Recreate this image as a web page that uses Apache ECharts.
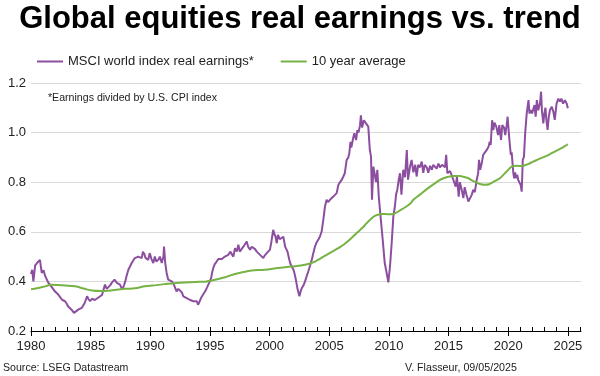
<!DOCTYPE html>
<html>
<head>
<meta charset="utf-8">
<script src="https://cdn.jsdelivr.net/npm/echarts@6/dist/echarts.min.js"></script>
<style>
  html, body { margin: 0; padding: 0; background: #fff; }
  #chart { width: 600px; height: 376px; }
</style>
</head>
<body>
<div id="chart"></div>
<script>
const FONT = '"Liberation Sans", Arial, sans-serif';
const PURPLE = '#8C4F9F';
const GREEN = '#77B244';

const xTicks = [1980, 1985, 1990, 1995, 2000, 2005, 2010, 2015, 2020, 2025];
const xMinorTicks = [1980, 1981, 1982, 1983, 1984, 1985, 1986, 1987, 1988, 1989,
  1990, 1991, 1992, 1993, 1994, 1995, 1996, 1997, 1998, 1999,
  2000, 2001, 2002, 2003, 2004, 2005, 2006, 2007, 2008, 2009,
  2010, 2011, 2012, 2013, 2014, 2015, 2016, 2017, 2018, 2019,
  2020, 2021, 2022, 2023, 2024, 2025, 2026];
const yTicks = [0.2, 0.4, 0.6, 0.8, 1.0, 1.2];

// MSCI world real earnings (decimal years)
const earnYears = [
  1980.0, 1980.1, 1980.2, 1980.35, 1980.5, 1980.6, 1980.75, 1980.9,
  1981.05, 1981.2, 1981.45, 1981.55, 1981.7, 1981.85,
  1982.0, 1982.15, 1982.3, 1982.45, 1982.6, 1982.75, 1982.85,
  1983.0, 1983.1, 1983.25, 1983.4, 1983.6, 1983.75, 1983.96,
  1984.1, 1984.25, 1984.4, 1984.5, 1984.7, 1984.8, 1984.95,
  1985.1, 1985.2, 1985.35, 1985.5, 1985.65, 1985.8, 1985.95,
  1986.06, 1986.2, 1986.35, 1986.5, 1986.65, 1986.76, 1986.9,
  1987.0, 1987.2, 1987.35, 1987.46, 1987.65, 1987.8, 1987.9,
  1988.0, 1988.16, 1988.3, 1988.44, 1988.55, 1988.7, 1988.85,
  1989.0, 1989.15, 1989.28, 1989.38, 1989.5, 1989.6, 1989.72, 1989.83, 1989.95,
  1990.1, 1990.25, 1990.38, 1990.5, 1990.67, 1990.8, 1990.96,
  1991.1, 1991.15, 1991.25, 1991.37, 1991.5, 1991.65, 1991.8, 1991.95,
  1992.07, 1992.2, 1992.35, 1992.5, 1992.65, 1992.77, 1992.9,
  1993.05, 1993.2, 1993.3, 1993.45, 1993.6, 1993.75, 1993.9,
  1994.0, 1994.1, 1994.25, 1994.4, 1994.6, 1994.75, 1994.86,
  1995.0, 1995.1, 1995.2, 1995.28, 1995.4, 1995.56, 1995.7, 1995.84,
  1996.0, 1996.1, 1996.25, 1996.4, 1996.54, 1996.7, 1996.8, 1996.96,
  1997.1, 1997.25, 1997.38, 1997.5, 1997.65, 1997.8, 1997.95,
  1998.08, 1998.2, 1998.36, 1998.5, 1998.64, 1998.78, 1998.92,
  1999.05, 1999.2, 1999.35, 1999.47, 1999.6, 1999.76, 1999.9,
  2000.03, 2000.15, 2000.3, 2000.4, 2000.5, 2000.6, 2000.7, 2000.85,
  2001.0, 2001.15, 2001.3, 2001.5, 2001.65, 2001.75, 2001.85,
  2002.0, 2002.1, 2002.2, 2002.35, 2002.5, 2002.6, 2002.7, 2002.85, 2002.97,
  2003.1, 2003.24, 2003.4, 2003.55, 2003.66, 2003.8, 2003.95,
  2004.1, 2004.22, 2004.36, 2004.5, 2004.64, 2004.78, 2004.9,
  2005.06, 2005.2, 2005.34, 2005.5, 2005.62, 2005.76, 2005.9,
  2006.04, 2006.18, 2006.3, 2006.46, 2006.6, 2006.68, 2006.78, 2006.85,
  2007.0, 2007.1, 2007.25, 2007.35, 2007.45, 2007.58, 2007.65, 2007.75, 2007.9,
  2008.08, 2008.27, 2008.4, 2008.5, 2008.58, 2008.7, 2008.83, 2008.92,
  2009.03, 2009.15, 2009.3, 2009.48, 2009.65, 2009.81, 2009.95,
  2010.09, 2010.23, 2010.37, 2010.5, 2010.6, 2010.7, 2010.82, 2010.93,
  2011.05, 2011.2, 2011.35, 2011.5, 2011.6, 2011.77, 2011.9,
  2012.05, 2012.2, 2012.33, 2012.45, 2012.6, 2012.75, 2012.88,
  2013.0, 2013.17, 2013.3, 2013.45, 2013.6, 2013.72, 2013.86,
  2014.0, 2014.15, 2014.28, 2014.45, 2014.56, 2014.7, 2014.8, 2014.9,
  2015.12, 2015.25, 2015.4, 2015.6, 2015.7, 2015.85, 2015.95,
  2016.1, 2016.24, 2016.35, 2016.5, 2016.66, 2016.8, 2016.94,
  2017.07, 2017.2, 2017.36, 2017.48, 2017.55, 2017.65, 2017.78, 2017.9,
  2018.05, 2018.2, 2018.35, 2018.45, 2018.53, 2018.65, 2018.75, 2018.85,
  2019.0, 2019.15, 2019.25, 2019.4, 2019.5, 2019.65, 2019.75, 2019.87, 2019.95,
  2020.05, 2020.15, 2020.22, 2020.29, 2020.36, 2020.43, 2020.5, 2020.58, 2020.65, 2020.75, 2020.84, 2020.95,
  2021.04, 2021.13, 2021.22, 2021.32, 2021.42, 2021.55, 2021.7, 2021.78, 2021.9,
  2022.0, 2022.1, 2022.2, 2022.3, 2022.4, 2022.52, 2022.67, 2022.75, 2022.83, 2022.94,
  2023.03, 2023.12, 2023.2, 2023.3, 2023.4, 2023.5, 2023.65, 2023.78, 2023.9,
  2024.05, 2024.2, 2024.33, 2024.45, 2024.6, 2024.75, 2024.9,
  2025.0
];
const earnValues = [
  0.43, 0.447, 0.40, 0.465, 0.474, 0.48, 0.487, 0.434,
  0.445, 0.42, 0.395, 0.40, 0.38, 0.385,
  0.36, 0.365, 0.346, 0.35, 0.326, 0.33, 0.32,
  0.31, 0.30, 0.295, 0.286, 0.273, 0.28, 0.286,
  0.283, 0.293, 0.30, 0.313, 0.34, 0.33, 0.32,
  0.33, 0.333, 0.325, 0.326, 0.335, 0.34, 0.345,
  0.353, 0.387, 0.37, 0.373, 0.385, 0.394, 0.39,
  0.407, 0.394, 0.40, 0.387, 0.367, 0.385, 0.40,
  0.42, 0.447, 0.46, 0.474, 0.48, 0.494, 0.49,
  0.50, 0.505, 0.494, 0.52, 0.51, 0.495, 0.487, 0.487, 0.514,
  0.49, 0.474, 0.50, 0.48, 0.487, 0.50, 0.474,
  0.50, 0.54, 0.474, 0.434, 0.407, 0.41, 0.40, 0.39,
  0.387, 0.36, 0.37, 0.367, 0.355, 0.34, 0.345,
  0.333, 0.335, 0.326, 0.33, 0.32, 0.325, 0.32,
  0.306, 0.315, 0.333, 0.345, 0.36, 0.375, 0.387,
  0.40, 0.414, 0.44, 0.454, 0.47, 0.48, 0.49, 0.494,
  0.49, 0.487, 0.50, 0.494, 0.507, 0.52, 0.515, 0.50,
  0.534, 0.52, 0.548, 0.52, 0.53, 0.54, 0.545,
  0.561, 0.54, 0.528, 0.54, 0.534, 0.53, 0.52,
  0.515, 0.507, 0.50, 0.494, 0.505, 0.514, 0.52,
  0.528, 0.56, 0.608, 0.59, 0.58, 0.554, 0.588, 0.57,
  0.575, 0.58, 0.54, 0.52, 0.487, 0.47, 0.46,
  0.447, 0.43, 0.407, 0.367, 0.34, 0.36, 0.373, 0.385, 0.40,
  0.42, 0.44, 0.465, 0.49, 0.514, 0.54, 0.558,
  0.57, 0.581, 0.601, 0.648, 0.702, 0.729, 0.72,
  0.729, 0.735, 0.742, 0.75, 0.756, 0.789, 0.80,
  0.809, 0.823, 0.836, 0.89, 0.90, 0.917, 0.963, 0.94,
  0.977, 0.997, 0.97, 1.01, 1.00, 1.03, 1.07, 1.02, 1.05,
  1.037, 1.024, 0.93, 0.903, 0.729, 0.863, 0.87, 0.80,
  0.85, 0.742, 0.661, 0.568, 0.474, 0.434, 0.396,
  0.46, 0.554, 0.661, 0.702, 0.75, 0.769, 0.809, 0.836,
  0.75, 0.85, 0.82, 0.93, 0.81, 0.863, 0.89,
  0.84, 0.87, 0.823, 0.87, 0.86, 0.883, 0.838,
  0.87, 0.86, 0.838, 0.866, 0.85, 0.87, 0.865,
  0.855, 0.875, 0.86, 0.87, 0.868, 0.86, 0.91, 0.836,
  0.845, 0.83, 0.823, 0.782, 0.823, 0.742, 0.80,
  0.769, 0.736, 0.78, 0.749, 0.722, 0.716, 0.749,
  0.769, 0.76, 0.81, 0.836, 0.89, 0.85, 0.876, 0.91,
  0.917, 0.93, 0.943, 0.963, 0.95, 1.05, 1.01, 1.04,
  1.024, 0.99, 1.03, 0.97, 1.03, 1.02, 0.99, 1.03, 1.064,
  1.0, 0.943, 0.91, 0.92, 0.877, 0.836, 0.816, 0.84, 0.816, 0.83, 0.809, 0.816,
  0.789, 0.762, 0.89, 0.903, 0.997, 1.077, 1.131, 1.077, 1.091,
  1.077, 1.085, 1.111, 1.064, 1.131, 1.09, 1.12, 1.165, 1.085, 1.037,
  1.077, 1.10, 1.05, 1.011, 1.064, 1.091, 1.104, 1.085, 1.051,
  1.117, 1.137, 1.125, 1.137, 1.117, 1.13, 1.117,
  1.098
];

// 10 year average
const avgYears = [
  1980.0, 1980.5, 1981.2, 1981.7, 1982.6, 1983.7, 1984.5, 1985.1, 1985.9, 1986.8,
  1987.9, 1988.7, 1989.55, 1990.5, 1991.2, 1992.0, 1992.9, 1993.8, 1994.6, 1995.15,
  1995.7, 1996.26, 1996.7, 1997.1, 1997.8, 1998.5, 1999.6, 2000.7, 2001.85, 2002.97,
  2003.8, 2004.7, 2005.5, 2006.2, 2006.8, 2007.3, 2007.8, 2008.14, 2008.7, 2009.0,
  2009.4, 2009.9, 2010.37, 2010.93, 2011.4, 2011.77, 2012.05, 2012.6, 2013.17, 2013.7,
  2014.28, 2014.7, 2015.12, 2015.5, 2015.96, 2016.3, 2016.66, 2017.0, 2017.36, 2017.7,
  2018.05, 2018.4, 2018.75, 2019.3, 2019.87, 2020.29, 2020.7, 2021.13, 2021.6, 2022.1,
  2022.6, 2023.2, 2023.6, 2024.05, 2024.5, 2024.9, 2025.0
];
const avgValues = [
  0.368, 0.372, 0.38, 0.386, 0.384, 0.38, 0.37, 0.363, 0.361, 0.364,
  0.37, 0.372, 0.38, 0.385, 0.389, 0.393, 0.396, 0.398, 0.399, 0.404,
  0.41, 0.417, 0.424, 0.43, 0.438, 0.444, 0.447, 0.454, 0.46, 0.467,
  0.48, 0.505, 0.527, 0.548, 0.572, 0.595, 0.617, 0.635, 0.661, 0.668,
  0.672, 0.671, 0.672, 0.686, 0.70, 0.713, 0.729, 0.75, 0.772, 0.79,
  0.809, 0.818, 0.823, 0.825, 0.825, 0.821, 0.816, 0.806, 0.798, 0.792,
  0.79, 0.792, 0.801, 0.816, 0.843, 0.863, 0.866, 0.865, 0.872, 0.883,
  0.894, 0.906, 0.916, 0.927, 0.938, 0.95, 0.952
];

const chart = echarts.init(document.getElementById('chart'));

const option = {
  animation: false,
  backgroundColor: '#fff',
  textStyle: { fontFamily: FONT },
  title: {
    text: 'Global equities real earnings vs. trend',
    left: 'center',
    top: 4,
    padding: 0,
    textStyle: { fontFamily: FONT, fontSize: 31, fontWeight: 'bold', color: '#000' },
  },
  legend: {
    left: 37,
    top: 55,
    padding: 0,
    icon: 'rect',
    itemWidth: 26,
    itemHeight: 2,
    itemGap: 27,
    textStyle: { fontFamily: FONT, fontSize: 13, color: '#222' },
    data: ['MSCI world index real earnings*', '10 year average'],
  },
  grid: { left: 31, right: 19, top: 83, bottom: 45, containLabel: false },
  xAxis: [
    {
      type: 'value',
      min: 1980,
      max: 2026.1,
      axisLine: { lineStyle: { color: '#000', width: 1 } },
      axisTick: { customValues: xTicks, length: 5, inside: false, lineStyle: { color: '#000' } },
      axisLabel: {
        customValues: xTicks,
        margin: 9,
        fontFamily: FONT,
        fontSize: 13,
        color: '#222',
        formatter: (v) => String(v),
      },
      splitLine: { show: false },
    },
    {
      type: 'value',
      min: 1980,
      max: 2026.1,
      position: 'bottom',
      axisLine: { show: false },
      axisTick: { customValues: xMinorTicks, length: 4, inside: true, lineStyle: { color: '#000' } },
      axisLabel: { show: false },
      splitLine: { show: false },
    },
  ],
  yAxis: {
    type: 'value',
    min: 0.2,
    max: 1.2,
    interval: 0.2,
    axisLine: { show: false },
    axisTick: { show: false },
    axisLabel: {
      customValues: yTicks,
      margin: 5,
      fontFamily: FONT,
      fontSize: 13,
      color: '#222',
      formatter: (v) => v.toFixed(1),
    },
    splitLine: { lineStyle: { color: '#d9d9d9', width: 1 } },
  },
  graphic: [
    {
      type: 'text',
      left: 48,
      top: 93,
      style: { text: '*Earnings divided by U.S. CPI index', fontFamily: FONT, fontSize: 10.6, fill: '#222' },
    },
    {
      type: 'text',
      left: 3,
      top: 363,
      style: { text: 'Source: LSEG Datastream', fontFamily: FONT, fontSize: 10.6, fill: '#222' },
    },
    {
      type: 'text',
      left: 405,
      top: 363,
      style: { text: 'V. Flasseur, 09/05/2025', fontFamily: FONT, fontSize: 10.7, fill: '#222' },
    },
  ],
  series: [
    {
      name: 'MSCI world index real earnings*',
      type: 'line',
      xAxisIndex: 0,
      data: earnYears.map((y, i) => [y, earnValues[i]]),
      symbol: 'none',
      lineStyle: { width: 2, color: PURPLE },
      itemStyle: { color: PURPLE },
      z: 2,
    },
    {
      name: '10 year average',
      type: 'line',
      xAxisIndex: 0,
      data: avgYears.map((y, i) => [y, avgValues[i]]),
      symbol: 'none',
      smooth: 0.3,
      lineStyle: { width: 2, color: GREEN },
      itemStyle: { color: GREEN },
      z: 3,
    },
  ],
};

chart.setOption(option);
window.addEventListener('resize', () => chart.resize());
</script>
</body>
</html>
